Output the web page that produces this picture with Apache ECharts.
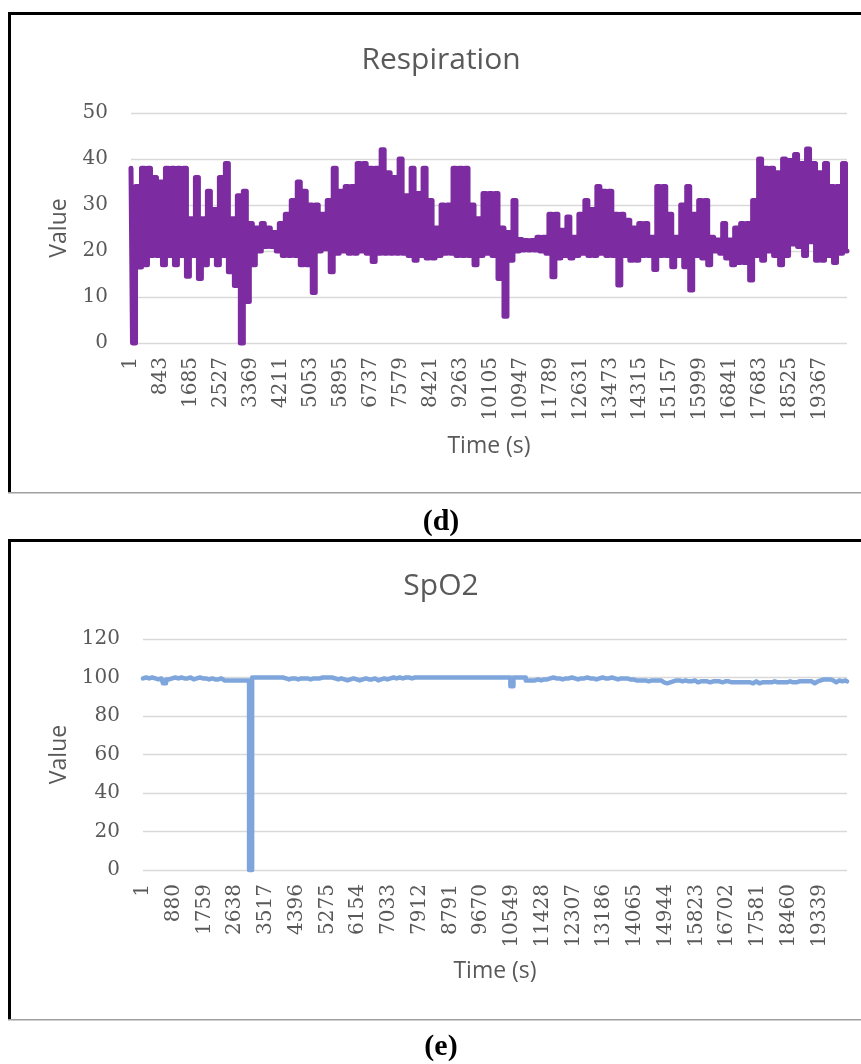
<!DOCTYPE html>
<html>
<head>
<meta charset="utf-8">
<script src="https://cdn.jsdelivr.net/npm/echarts@6/dist/echarts.min.js"></script>
<style>
html,body{margin:0;padding:0;background:#fff;}
#c{width:861px;height:1064px;}
</style>
</head>
<body>
<div id="c"></div>
<script>
// ---- Data ----
// Respiration: x tick labels (every 842 samples)
const respLabels = ['1','843','1685','2527','3369','4211','5053','5895','6737','7579','8421','9263','10105','10947','11789','12631','13473','14315','15157','15999','16841','17683','18525','19367'];
// Respiration: upper and lower envelope of the dense trace, per time bin (120 bins)
const respHigh = [
  38,34,38,38,36,35,38,38,38,38,
  27,36,27,33,29,36,39,27,32,33,
  26,25,26,25,24,26,28,31,35,33,
  30,30,28,31,38,33,34,34,39,39,
  38,38,42,37,36,40,32,38,32.5,38,
  31,25,30,30,38,38,38,30,27,32.5,
  32.5,32.5,25,24,31,22.5,22.3,22.3,23,23,
  28,28,24.5,27.4,23,28,31,29,34,33,
  33,28,28,26.7,25,26,26,23,34,34,
  28,23,30,34,28,31,31,23,22.4,26,
  22.4,25,26,26,31,40,38,38,37,40,
  39.7,41,39,42.2,39,37,39,34,34,39
];
const respLow = [
  0,16.5,17,19,19,17,19,17,19,14.5,
  19,14,17,19,17,19,15.5,12.5,0,9,
  17,20,21,21,20,19,19,19,17,17,
  11,20,20.5,15.5,19.5,20,19.5,19.5,20,19.5,
  17.7,19.5,19.5,19.5,19.5,19.5,19,18,19,18.5,
  18.5,19,19.5,19.5,19,19,19,17,19,19.5,
  19,14,5.8,18,20,20.2,20.2,20.2,20,19.5,
  14.4,18.5,19,18.5,19,19.5,19,19,19.5,19,
  19,12.6,19,18,18,19,19,16,19,19,
  16.6,19,16.6,11.5,19,18.5,17,20,19.5,18.5,
  17,17.5,17.5,13.7,19,18,20,19,17,19,
  21.5,21,19,22,18,18,19,17.5,19.5,20
];
// SpO2: x tick labels (every 879 samples)
const spo2Labels = ['1','880','1759','2638','3517','4396','5275','6154','7033','7912','8791','9670','10549','11428','12307','13186','14065','14944','15823','16702','17581','18460','19339'];
// SpO2 values (230 sampled points)
const spo2Values = [
  99.5,100,99.5,100,99.5,99,99.5,
  97,
  99,99.5,100,99.5,100,99.5,99.5,100,99,99.5,100,99.5,
  99.5,99,99.5,99,99,99.5,98.5,98.5,98.5,98.5,98.5,98.5,98.5,98.5,98.5,
  0,
  100,100,100,100,100,100,100,100,100,100,
  99.5,99,99.5,99.5,99,99.5,99.5,99.5,99,99.5,99.5,99.5,100,
  100,100,100,99.5,
  99,99.5,99,98.5,99,99.5,99,98.5,99,99.5,99,99,99.5,98.5,99,99.5,99,
  99.5,100,99.5,100,99.5,100,100,99.5,100,100,100,100,100,100,100,
  100,100,100,100,100,100,100,100,100,100,100,100,100,100,100,100,100,100,100,100,100,100,100,100,100,
  95.5,
  100,100,100,100,
  98.5,98.5,98.5,99,98.5,99,99,
  99.5,100,99.5,99.5,99,99.5,99.5,100,99.5,99,99.5,99.5,100,99.5,99.5,99,99.5,100,99.5,99.5,100,99.5,99,99.5,99.5,99.5,99,
  99,98.5,98.5,98.5,98.5,98,98.5,98.5,98.5,98.5,
  97.5,97,97.5,98,
  98.5,98.5,98,98.5,98,98,98.5,97.5,
  98,98,98,97.5,98,98,98,97.5,98,98,
  97.5,97.5,97.5,97.5,97.5,97.5,97.5,
  97,98,97,97.5,
  97.5,97.5,97.5,98,97.5,97.5,97.5,97.5,98,97.5,97.5,98,
  98,98,98,98,97,98,98.5,99,
  99,99,98.5,97.5,98.5,98,98.5,98
];
const respYTicks = {min: 0, max: 50, interval: 10};
const spo2YTicks = {min: 0, max: 120, interval: 20};

// ---- Build series / categories ----
const PER_LABEL = 10;
const respSeries = [];
respHigh.forEach((h, i) => { respSeries.push(h, respLow[i]); });
const respCats = respSeries.map((_, j) => (j % PER_LABEL === 0 && respLabels[j / PER_LABEL]) ? respLabels[j / PER_LABEL] : '');
const spo2Cats = spo2Values.map((_, j) => (j % PER_LABEL === 0 && spo2Labels[j / PER_LABEL]) ? spo2Labels[j / PER_LABEL] : '');

const grey = '#595959';
const sans = '"Open Sans", sans-serif';
const serif = '"DejaVu Serif", serif';

function xAxisCfg(cats, gridIndex, gap) {
  return {
    type: 'category', gridIndex: gridIndex, data: cats, boundaryGap: false,
    axisLine: {show: false}, axisTick: {show: false},
    axisLabel: {
      interval: (idx) => idx % PER_LABEL === 0, rotate: 90, margin: 14,
      fontFamily: serif, fontSize: 20, color: grey
    },
    name: 'Time (s)', nameLocation: 'middle', nameGap: gap,
    nameTextStyle: {fontFamily: sans, fontSize: 23, color: grey}
  };
}
function yAxisCfg(t, gridIndex, gap) {
  return {
    type: 'value', gridIndex: gridIndex, min: t.min, max: t.max, interval: t.interval,
    axisLine: {show: false}, axisTick: {show: false},
    axisLabel: {margin: 23, fontFamily: serif, fontSize: 20, color: grey},
    splitLine: {lineStyle: {color: '#D9D9D9', width: 1.3}},
    name: 'Value', nameLocation: 'middle', nameGap: gap,
    nameTextStyle: {fontFamily: sans, fontSize: 23, color: grey}
  };
}

const chart = echarts.init(document.getElementById('c'), null, {renderer: 'canvas'});
chart.setOption({
  animation: false,
  backgroundColor: '#fff',
  title: [
    {text: 'Respiration', left: 441, top: 45, textAlign: 'center', padding: 0,
     textStyle: {fontFamily: sans, fontSize: 30, fontWeight: 'normal', color: grey}},
    {text: 'SpO2', left: 441, top: 571, textAlign: 'center', padding: 0,
     textStyle: {fontFamily: sans, fontSize: 30, fontWeight: 'normal', color: grey}}
  ],
  grid: [
    {left: 131, top: 113, width: 716, height: 230},
    {left: 143, top: 639, width: 704, height: 231}
  ],
  xAxis: [xAxisCfg(respCats, 0, 92), xAxisCfg(spo2Cats, 1, 90)],
  yAxis: [yAxisCfg(respYTicks, 0, 60), yAxisCfg(spo2YTicks, 1, 72)],
  series: [
    {type: 'line', xAxisIndex: 0, yAxisIndex: 0, data: respSeries, showSymbol: false, symbol: 'none',
     step: 'middle', clip: false, lineStyle: {color: '#7D2BA0', width: 5, join: 'round', cap: 'round'}},
    {type: 'line', xAxisIndex: 1, yAxisIndex: 1, data: spo2Values, showSymbol: false, symbol: 'none',
     step: 'middle', clip: false, lineStyle: {color: '#7EA6DC', width: 4.5, join: 'round', cap: 'round'}}
  ],
  graphic: [
    {type: 'rect', shape: {x: 8, y: 12, width: 853, height: 3}, style: {fill: '#000'}, silent: true},
    {type: 'rect', shape: {x: 8, y: 12, width: 3, height: 481}, style: {fill: '#000'}, silent: true},
    {type: 'rect', shape: {x: 8, y: 492, width: 853, height: 1.5}, style: {fill: '#A0A0A0'}, silent: true},
    {type: 'rect', shape: {x: 8, y: 539, width: 853, height: 3}, style: {fill: '#000'}, silent: true},
    {type: 'rect', shape: {x: 8, y: 539, width: 3, height: 481}, style: {fill: '#000'}, silent: true},
    {type: 'rect', shape: {x: 8, y: 1019, width: 853, height: 1.5}, style: {fill: '#A0A0A0'}, silent: true},
    {type: 'text', x: 441, y: 522, style: {text: '(d)', fill: '#000', font: 'bold 30px "Liberation Serif", serif', textAlign: 'center', textVerticalAlign: 'middle'}},
    {type: 'text', x: 441, y: 1047, style: {text: '(e)', fill: '#000', font: 'bold 30px "Liberation Serif", serif', textAlign: 'center', textVerticalAlign: 'middle'}}
  ]
});
</script>
</body>
</html>
